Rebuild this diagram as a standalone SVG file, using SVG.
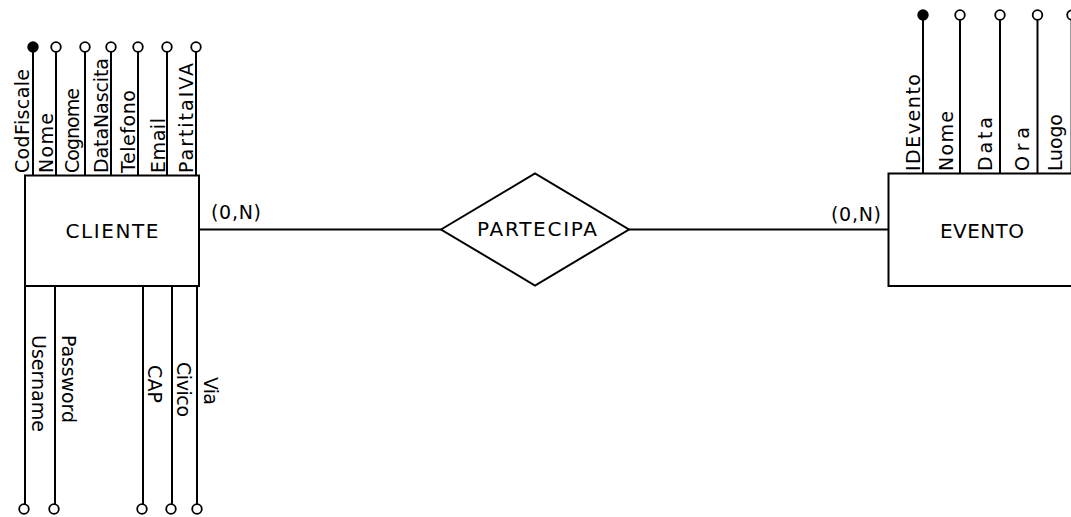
<svg xmlns="http://www.w3.org/2000/svg" width="1071" height="517" viewBox="0 0 1071 517">
<style>
.ln{stroke:#000;stroke-width:2;fill:none}
.box{stroke:#000;stroke-width:2;fill:#fff}
.oc{stroke:#000;stroke-width:1.8;fill:#fff}
.fc{stroke:#000;stroke-width:1.8;fill:#000}
text{font-family:"DejaVu Sans","Liberation Sans",sans-serif;fill:#000}
.lb{font-size:19px}
.nm{font-size:20px}
</style>
<rect width="1071" height="517" fill="#fff"/>
<g id="connectors">
<line class="ln" x1="199" y1="229.5" x2="441" y2="229.5"/>
<line class="ln" x1="629" y1="229.5" x2="888" y2="229.5"/>
<text class="lb" x="211" y="219" textLength="50">(0,N)</text>
<text class="lb" x="831" y="221" textLength="50">(0,N)</text>
</g>
<g id="attr-cliente-top">
<line class="ln" x1="33" y1="47" x2="33" y2="175"/>
<line class="ln" x1="56" y1="47" x2="56" y2="175"/>
<line class="ln" x1="85" y1="47" x2="85" y2="175"/>
<line class="ln" x1="111" y1="47" x2="111" y2="175"/>
<line class="ln" x1="138" y1="47" x2="138" y2="175"/>
<line class="ln" x1="167" y1="47" x2="167" y2="175"/>
<line class="ln" x1="196" y1="47" x2="196" y2="175"/>
<circle class="fc" cx="33" cy="47" r="4.8"/>
<circle class="oc" cx="56" cy="47" r="4.8"/>
<circle class="oc" cx="85" cy="47" r="4.8"/>
<circle class="oc" cx="111" cy="47" r="4.8"/>
<circle class="oc" cx="138" cy="47" r="4.8"/>
<circle class="oc" cx="167" cy="47" r="4.8"/>
<circle class="oc" cx="196" cy="47" r="4.8"/>
<text class="lb" transform="translate(29,173) rotate(-90)" textLength="104">CodFiscale</text>
<text class="lb" transform="translate(53,173) rotate(-90)" textLength="60">Nome</text>
<text class="lb" transform="translate(79,173) rotate(-90)" textLength="85">Cognome</text>
<text class="lb" transform="translate(108,173) rotate(-90)" textLength="115">DataNascita</text>
<text class="lb" transform="translate(135,173) rotate(-90)" textLength="83">Telefono</text>
<text class="lb" transform="translate(165,173) rotate(-90)" textLength="55">Email</text>
<text class="lb" transform="translate(193,173) rotate(-90)" textLength="110">PartitaIVA</text>
</g>
<g id="attr-cliente-bottom">
<line class="ln" x1="25" y1="286" x2="25" y2="509"/>
<line class="ln" x1="55" y1="286" x2="55" y2="509"/>
<line class="ln" x1="143" y1="286" x2="143" y2="509"/>
<line class="ln" x1="172" y1="286" x2="172" y2="509"/>
<line class="ln" x1="197" y1="286" x2="197" y2="509"/>
<circle class="oc" cx="24" cy="509" r="4.8"/>
<circle class="oc" cx="54" cy="509" r="4.8"/>
<circle class="oc" cx="142" cy="509" r="4.8"/>
<circle class="oc" cx="171" cy="509" r="4.8"/>
<circle class="oc" cx="197" cy="509" r="4.8"/>
<text class="lb" transform="translate(32,335) rotate(90)" textLength="97">Username</text>
<text class="lb" transform="translate(62,335) rotate(90)" textLength="88">Password</text>
<text class="lb" transform="translate(148,365) rotate(90)" textLength="38">CAP</text>
<text class="lb" transform="translate(177,362) rotate(90)" textLength="55">Civico</text>
<text class="lb" transform="translate(204,377) rotate(90)" textLength="28">Via</text>
</g>
<g id="cliente">
<rect class="box" x="25" y="175.5" width="174" height="110.5"/>
<text class="nm" x="112" y="238" text-anchor="middle" textLength="93" font-size="21">CLIENTE</text>
</g>
<g id="partecipa">
<polygon class="box" points="441,229.5 535,173.5 629,229.5 535,285.5"/>
<text class="nm" x="537" y="236" text-anchor="middle" textLength="120" font-size="19">PARTECIPA</text>
</g>
<g id="attr-evento-top">
<line class="ln" x1="923" y1="15" x2="923" y2="173"/>
<line class="ln" x1="960" y1="15" x2="960" y2="173"/>
<line class="ln" x1="1000" y1="15" x2="1000" y2="173"/>
<line class="ln" x1="1037.5" y1="15" x2="1037.5" y2="173"/>
<line x1="1070.5" y1="15" x2="1070.5" y2="173" stroke="#999" stroke-width="1"/>
<circle class="fc" cx="923" cy="15" r="4.8"/>
<circle class="oc" cx="960" cy="15" r="4.8"/>
<circle class="oc" cx="1000" cy="15" r="4.8"/>
<circle class="oc" cx="1037.5" cy="15" r="4.8"/>
<circle class="oc" cx="1072" cy="15" r="4.8"/>
<text class="lb" transform="translate(920,171) rotate(-90)" textLength="97">IDEvento</text>
<text class="lb" transform="translate(953,171) rotate(-90)" textLength="60">Nome</text>
<text class="lb" transform="translate(992,171) rotate(-90)" textLength="54">Data</text>
<text class="lb" transform="translate(1029,171) rotate(-90)" textLength="44">Ora</text>
<text class="lb" transform="translate(1062,171) rotate(-90)" textLength="57">Luogo</text>
</g>
<g id="evento">
<rect class="box" x="888.5" y="173.5" width="200" height="112.5"/>
<text class="nm" x="982" y="238" text-anchor="middle" textLength="84">EVENTO</text>
</g>
</svg>
